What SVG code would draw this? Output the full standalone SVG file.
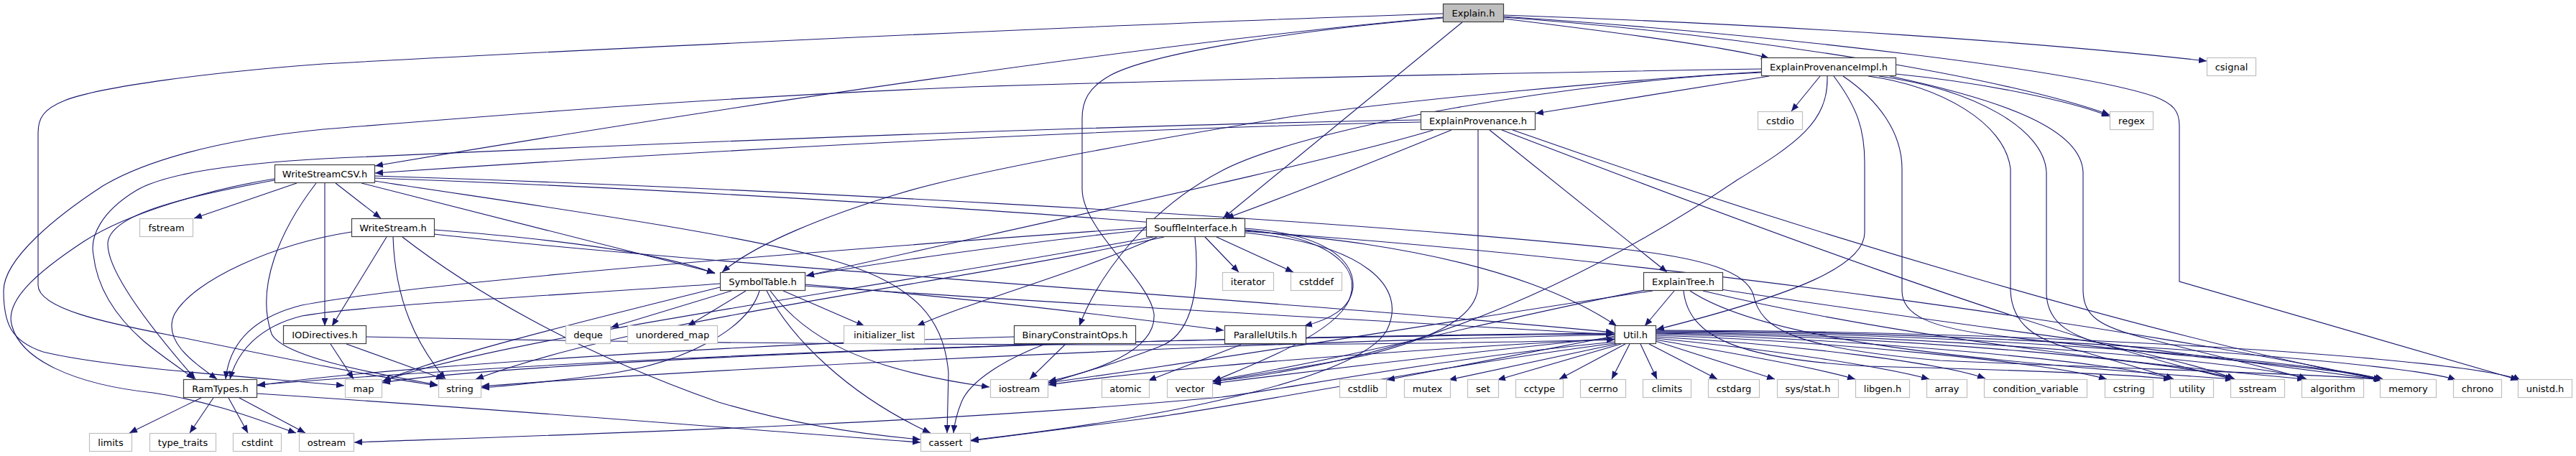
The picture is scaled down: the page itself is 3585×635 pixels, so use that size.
<svg xmlns="http://www.w3.org/2000/svg" width="3585" height="635" viewBox="0 0 3585 635">
<style>
.bg{fill:#ffffff}
.e path{fill:none;stroke:#191970;stroke-width:1.1;marker-end:url(#a)}
.n rect{fill:#ffffff;stroke:#404040;stroke-width:1.2}
.s rect{fill:#ffffff;stroke:#bfbfbf;stroke-width:1.2}
.r rect{fill:#bfbfbf;stroke:#404040;stroke-width:1.2}
text{font-family:"DejaVu Sans","Liberation Sans",sans-serif;font-size:13px;text-anchor:middle;fill:#000000}
</style>
<defs>
<marker id="a" markerUnits="userSpaceOnUse" markerWidth="12" markerHeight="9" refX="11" refY="4.5" orient="auto">
<path d="M0,0 L11,4.5 L0,9 z" fill="#191970"/>
</marker>
</defs>
<rect class="bg" x="0" y="0" width="3585" height="635"/>
<g id="edges" class="e">
<path d="M2092,26 C2250,45 2400,65 2462,81"/>
<path d="M2092,21 C2500,35 2850,60 3071,85"/>
<path d="M2092,24 C2450,50 2800,110 2936,160"/>
<path d="M2092,23 C2500,50 2900,100 3000,135 C3025,145 3033,155 3033,175 L3033,392 L3505,529"/>
<path d="M2035,31 L1702,304"/>
<path d="M2008,25 C1800,42 1600,75 1545,105 C1515,122 1506,140 1506,165 L1506,263 C1506,320 1600,390 1606,437 C1610,490 1520,518 1459,531"/>
<path d="M2008,24 C1600,60 1000,150 522,231"/>
<path d="M2008,19 C1500,35 700,75 450,89 C300,100 140,120 90,140 C60,152 53,165 53,185 L53,397 C53,430 150,450 233,466 C350,490 520,525 609,537"/>
<path d="M2533,106 L2493,155"/>
<path d="M2462,106 L2137,158"/>
<path d="M2638,103 C2760,115 2880,140 2936,162"/>
<path d="M2451,101 C2200,112 1820,175 1700,238 C1600,290 1530,380 1502,454"/>
<path d="M2543,106 C2545,170 2500,200 2417,251 C2300,330 2100,450 1850,505 C1770,522 1720,528 1688,531"/>
<path d="M2552,106 C2585,150 2595,180 2595,227 L2595,324 C2595,370 2500,410 2305,459"/>
<path d="M2565,106 C2615,140 2647,185 2647,235 L2647,405 C2647,440 2690,455 2760,465 C3000,495 3250,510 3318,529"/>
<path d="M2600,106 C2700,120 2790,170 2798,235 L2798,405 C2800,450 2830,475 2900,490 C2950,505 3000,518 3025,528"/>
<path d="M2615,106 C2750,125 2845,180 2848,240 L2848,410 C2850,450 2880,470 2950,485 C3020,500 3080,515 3110,528"/>
<path d="M2630,106 C2790,140 2897,180 2899,240 L2899,405 C2900,440 2920,455 2990,472 C3080,495 3170,515 3210,528"/>
<path d="M2451,96 C2200,100 1800,107 1350,121 C1000,135 700,160 450,180 C300,195 200,225 143,259 C80,300 5,360 5,405 C5,450 15,475 60,490 C150,512 350,525 479,537"/>
<path d="M2451,100 C2250,112 1950,140 1800,162 C1600,195 1350,239 1250,270 C1150,300 1050,340 1005,379"/>
<path d="M2073,181 L2320,379"/>
<path d="M2020,181 C1900,230 1800,270 1706,304"/>
<path d="M1995,181 C1850,225 1450,310 1122,384"/>
<path d="M1977,170 C1500,180 900,215 522,241"/>
<path d="M1977,167 C1500,175 800,205 450,221 C330,228 233,240 190,265 C140,295 125,330 130,355 C135,400 160,440 200,475 C230,500 255,515 270,528"/>
<path d="M2057,181 L2057,397 C2057,440 2000,470 1900,495 C1800,515 1720,525 1688,532"/>
<path d="M2090,181 C2400,300 2850,470 3108,528"/>
<path d="M2105,181 C2500,320 3000,470 3315,529"/>
<path d="M413,255 L270,304"/>
<path d="M467,255 L530,304"/>
<path d="M452,255 L452,454"/>
<path d="M503,255 L995,380"/>
<path d="M382,251 C250,275 150,300 150,340 C150,385 230,480 272,528"/>
<path d="M382,249 C300,262 180,295 117,336 C50,380 5,420 17,455 C30,500 100,535 213,547 C300,560 360,585 412,603"/>
<path d="M440,255 C390,320 355,400 378,465 C395,500 550,525 609,536"/>
<path d="M521,245 C1000,260 1800,300 2250,346 C2380,360 2430,380 2440,410 C2450,460 2500,485 2700,502 C3000,515 3250,522 3316,529"/>
<path d="M521,252 C700,280 1000,320 1150,360 C1280,395 1315,450 1320,520 L1318,603"/>
<path d="M521,248 C1000,265 1700,310 1900,340 C2100,370 2200,420 2250,454"/>
<path d="M538,330 L462,454"/>
<path d="M547,330 C550,420 580,480 620,528"/>
<path d="M560,330 C650,400 800,490 1000,560 C1100,590 1200,605 1281,612"/>
<path d="M604,320 C800,335 930,355 995,381"/>
<path d="M489,323 C380,340 270,390 243,437 C225,475 270,505 302,528"/>
<path d="M604,326 C1000,370 1800,420 2246,463"/>
<path d="M1677,330 L1724,379"/>
<path d="M1693,330 L1800,379"/>
<path d="M1595,320 C1400,340 1200,370 1122,384"/>
<path d="M1595,317 C1200,345 600,390 420,425 C340,445 318,490 314,528"/>
<path d="M1663,330 C1670,400 1660,460 1620,480 C1560,505 1500,520 1459,534"/>
<path d="M1620,330 C1300,400 900,440 662,528"/>
<path d="M1605,330 C1200,405 700,470 532,531"/>
<path d="M1732,320 C1850,330 1890,370 1880,410 C1870,460 1750,505 1688,531"/>
<path d="M1732,324 C1900,340 1960,400 1930,460 C1890,530 1600,585 1351,613"/>
<path d="M1732,318 C1840,325 1885,360 1883,400 C1880,430 1850,445 1815,454"/>
<path d="M1610,330 C1500,380 1350,420 1276,454"/>
<path d="M1732,322 C2300,360 3000,460 3314,529"/>
<path d="M1038,405 L957,454"/>
<path d="M1018,405 L850,456"/>
<path d="M1090,405 L1203,454"/>
<path d="M1067,405 C1100,470 1180,550 1295,603"/>
<path d="M1057,405 C1040,460 950,505 850,520 C780,530 700,538 670,540"/>
<path d="M1072,405 C1120,470 1200,515 1377,539"/>
<path d="M1120,398 C1500,425 1900,445 2246,466"/>
<path d="M1120,396 C1350,415 1550,440 1703,460"/>
<path d="M1002,395 C800,410 500,425 420,440 C360,455 330,490 320,528"/>
<path d="M1002,400 C800,450 600,500 533,531"/>
<path d="M2330,405 L2289,454"/>
<path d="M2290,404 C2100,440 1900,495 1688,530"/>
<path d="M2300,405 C2000,450 1700,500 1459,533"/>
<path d="M2343,405 C2350,470 2420,500 2600,510 C2800,515 2950,520 3022,528"/>
<path d="M2352,405 C2450,470 2700,500 3108,528"/>
<path d="M2370,405 C2600,460 2900,500 3208,528"/>
<path d="M2395,403 C2700,450 3100,500 3315,529"/>
<path d="M460,479 L492,528"/>
<path d="M482,479 L618,528"/>
<path d="M509,469 C1000,480 1800,485 2247,473"/>
<path d="M1482,480 L1433,528"/>
<path d="M1452,480 C1400,500 1350,530 1338,560 C1330,580 1328,592 1327,603"/>
<path d="M1411,469 C1000,480 500,515 358,537"/>
<path d="M1727,480 L1598,530"/>
<path d="M2247,468 L1930,529"/>
<path d="M2250,479 L2016,529"/>
<path d="M2256,479 L2084,529"/>
<path d="M2262,479 L2170,528"/>
<path d="M2268,479 L2243,528"/>
<path d="M2283,479 L2306,528"/>
<path d="M2295,479 L2390,528"/>
<path d="M2304,475 L2470,528"/>
<path d="M2304,473 C2400,490 2520,510 2582,528"/>
<path d="M2304,471 C2450,485 2620,510 2685,528"/>
<path d="M2304,469 C2500,480 2700,505 2763,527"/>
<path d="M2304,467 C2550,475 2850,505 2932,528"/>
<path d="M2304,465 C2600,472 2950,505 3025,528"/>
<path d="M2304,464 C2650,468 3050,505 3110,528"/>
<path d="M2304,463 C2700,466 3150,505 3210,528"/>
<path d="M2304,462 C2750,463 3250,505 3316,529"/>
<path d="M2304,461 C2800,461 3350,505 3418,529"/>
<path d="M2304,460 C2850,460 3450,500 3508,530"/>
<path d="M2247,472 C1900,490 1600,515 1459,536"/>
<path d="M2247,470 C2050,490 1800,520 1688,534"/>
<path d="M2247,466 C1600,480 900,520 670,538"/>
<path d="M2247,464 C1500,470 700,505 532,533"/>
<path d="M2247,465 C1500,470 800,500 358,536"/>
<path d="M2247,476 C2000,500 1800,540 1700,553 C1300,590 800,605 493,616"/>
<path d="M2247,478 C2000,510 1700,570 1600,582 C1500,595 1420,605 1351,614"/>
<path d="M280,554 L180,603"/>
<path d="M297,554 L264,603"/>
<path d="M318,554 L345,603"/>
<path d="M333,554 L425,603"/>
<path d="M357,548 C700,570 1000,595 1281,616"/>
</g>
<g id="node-Explain_h" class="r"><rect x="2008.5" y="5.5" width="84" height="25"/><text x="2050.5" y="23">Explain.h</text></g>
<g id="node-ExplainProvenanceImpl_h" class="n"><rect x="2451.5" y="80.5" width="187" height="25"/><text x="2545" y="98">ExplainProvenanceImpl.h</text></g>
<g id="node-csignal" class="s"><rect x="3071.5" y="80.5" width="68" height="25"/><text x="3105.5" y="98">csignal</text></g>
<g id="node-ExplainProvenance_h" class="n"><rect x="1977.5" y="155.5" width="159" height="25"/><text x="2057" y="173">ExplainProvenance.h</text></g>
<g id="node-cstdio" class="s"><rect x="2446.5" y="155.5" width="62" height="25"/><text x="2477.5" y="173">cstdio</text></g>
<g id="node-regex" class="s"><rect x="2936.5" y="155.5" width="60" height="25"/><text x="2966.5" y="173">regex</text></g>
<g id="node-WriteStreamCSV_h" class="n"><rect x="382.5" y="229.5" width="139" height="25"/><text x="452" y="247">WriteStreamCSV.h</text></g>
<g id="node-fstream" class="s"><rect x="194.5" y="304.5" width="74" height="25"/><text x="231.5" y="322">fstream</text></g>
<g id="node-WriteStream_h" class="n"><rect x="489.5" y="304.5" width="115" height="25"/><text x="547" y="322">WriteStream.h</text></g>
<g id="node-SouffleInterface_h" class="n"><rect x="1595.5" y="304.5" width="137" height="25"/><text x="1664" y="322">SouffleInterface.h</text></g>
<g id="node-SymbolTable_h" class="n"><rect x="1002.5" y="379.5" width="118" height="25"/><text x="1061.5" y="397">SymbolTable.h</text></g>
<g id="node-iterator" class="s"><rect x="1701.5" y="379.5" width="71" height="25"/><text x="1737" y="397">iterator</text></g>
<g id="node-cstddef" class="s"><rect x="1796.5" y="379.5" width="71" height="25"/><text x="1832" y="397">cstddef</text></g>
<g id="node-ExplainTree_h" class="n"><rect x="2287.5" y="379.5" width="110" height="25"/><text x="2342.5" y="397">ExplainTree.h</text></g>
<g id="node-IODirectives_h" class="n"><rect x="394.5" y="453.5" width="115" height="25"/><text x="452" y="471">IODirectives.h</text></g>
<g id="node-deque" class="s"><rect x="787.5" y="453.5" width="62" height="25"/><text x="818.5" y="471">deque</text></g>
<g id="node-unordered_map" class="s"><rect x="873.5" y="453.5" width="125" height="25"/><text x="936" y="471">unordered_map</text></g>
<g id="node-initializer_list" class="s"><rect x="1174.5" y="453.5" width="112" height="25"/><text x="1230.5" y="471">initializer_list</text></g>
<g id="node-BinaryConstraintOps_h" class="n"><rect x="1411.5" y="453.5" width="169" height="25"/><text x="1496" y="471">BinaryConstraintOps.h</text></g>
<g id="node-ParallelUtils_h" class="n"><rect x="1704.5" y="453.5" width="113" height="25"/><text x="1761" y="471">ParallelUtils.h</text></g>
<g id="node-Util_h" class="n"><rect x="2247.5" y="453.5" width="57" height="25"/><text x="2276" y="471">Util.h</text></g>
<g id="node-RamTypes_h" class="n"><rect x="255.5" y="528.5" width="102" height="25"/><text x="306.5" y="546">RamTypes.h</text></g>
<g id="node-map" class="s"><rect x="480.5" y="528.5" width="51" height="25"/><text x="506" y="546">map</text></g>
<g id="node-string" class="s"><rect x="610.5" y="528.5" width="59" height="25"/><text x="640" y="546">string</text></g>
<g id="node-iostream" class="s"><rect x="1378.5" y="528.5" width="80" height="25"/><text x="1418.5" y="546">iostream</text></g>
<g id="node-atomic" class="s"><rect x="1533.5" y="528.5" width="66" height="25"/><text x="1566.5" y="546">atomic</text></g>
<g id="node-vector" class="s"><rect x="1624.5" y="528.5" width="63" height="25"/><text x="1656" y="546">vector</text></g>
<g id="node-cstdlib" class="s"><rect x="1864.5" y="528.5" width="65" height="25"/><text x="1897" y="546">cstdlib</text></g>
<g id="node-mutex" class="s"><rect x="1954.5" y="528.5" width="64" height="25"/><text x="1986.5" y="546">mutex</text></g>
<g id="node-set" class="s"><rect x="2042.5" y="528.5" width="43" height="25"/><text x="2064" y="546">set</text></g>
<g id="node-cctype" class="s"><rect x="2109.5" y="528.5" width="66" height="25"/><text x="2142.5" y="546">cctype</text></g>
<g id="node-cerrno" class="s"><rect x="2199.5" y="528.5" width="63" height="25"/><text x="2231" y="546">cerrno</text></g>
<g id="node-climits" class="s"><rect x="2286.5" y="528.5" width="67" height="25"/><text x="2320" y="546">climits</text></g>
<g id="node-cstdarg" class="s"><rect x="2377.5" y="528.5" width="71" height="25"/><text x="2413" y="546">cstdarg</text></g>
<g id="node-sys_stat_h" class="s"><rect x="2473.5" y="528.5" width="85" height="25"/><text x="2516" y="546">sys/stat.h</text></g>
<g id="node-libgen_h" class="s"><rect x="2582.5" y="528.5" width="75" height="25"/><text x="2620" y="546">libgen.h</text></g>
<g id="node-array" class="s"><rect x="2681.5" y="528.5" width="56" height="25"/><text x="2709.5" y="546">array</text></g>
<g id="node-condition_variable" class="s"><rect x="2761.5" y="528.5" width="143" height="25"/><text x="2833" y="546">condition_variable</text></g>
<g id="node-cstring" class="s"><rect x="2929.5" y="528.5" width="67" height="25"/><text x="2963" y="546">cstring</text></g>
<g id="node-utility" class="s"><rect x="3020.5" y="528.5" width="60" height="25"/><text x="3050.5" y="546">utility</text></g>
<g id="node-sstream" class="s"><rect x="3104.5" y="528.5" width="75" height="25"/><text x="3142" y="546">sstream</text></g>
<g id="node-algorithm" class="s"><rect x="3203.5" y="528.5" width="86" height="25"/><text x="3246.5" y="546">algorithm</text></g>
<g id="node-memory" class="s"><rect x="3312.5" y="528.5" width="78" height="25"/><text x="3351.5" y="546">memory</text></g>
<g id="node-chrono" class="s"><rect x="3414.5" y="528.5" width="67" height="25"/><text x="3448" y="546">chrono</text></g>
<g id="node-unistd_h" class="s"><rect x="3504.5" y="528.5" width="75" height="25"/><text x="3542" y="546">unistd.h</text></g>
<g id="node-limits" class="s"><rect x="124.5" y="603.5" width="59" height="25"/><text x="154" y="621">limits</text></g>
<g id="node-type_traits" class="s"><rect x="208.5" y="603.5" width="92" height="25"/><text x="254.5" y="621">type_traits</text></g>
<g id="node-cstdint" class="s"><rect x="324.5" y="603.5" width="67" height="25"/><text x="358" y="621">cstdint</text></g>
<g id="node-ostream" class="s"><rect x="416.5" y="603.5" width="76" height="25"/><text x="454.5" y="621">ostream</text></g>
<g id="node-cassert" class="s"><rect x="1281.5" y="603.5" width="69" height="25"/><text x="1316" y="621">cassert</text></g>
</svg>
